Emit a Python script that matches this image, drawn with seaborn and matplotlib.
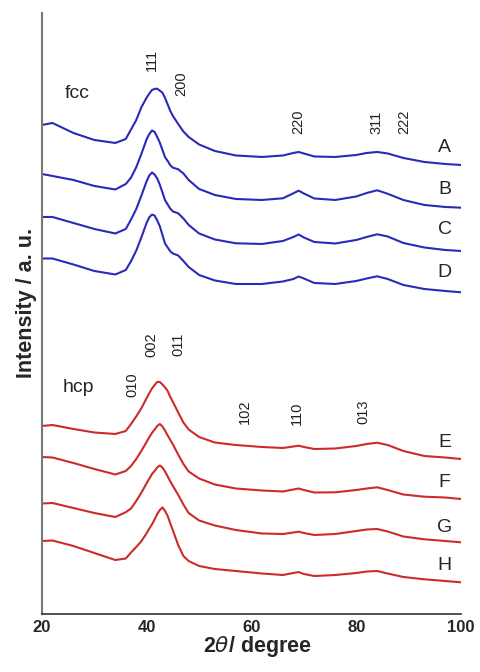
import numpy as np
import pandas as pd
import matplotlib
matplotlib.use('Agg')
import matplotlib.pyplot as plt
import seaborn as sns

# 2theta grid (degree) and intensities
two_theta = [20, 22, 26, 30, 34, 36, 37, 38, 39, 40, 40.5, 41, 41.5, 42, 42.5, 43, 43.5, 44, 44.5, 45,
             46, 47, 48, 50, 53, 57, 62, 66, 68, 69, 70, 72, 76, 80, 82, 84, 86, 89, 93, 97, 100]

curve_A = [489, 491, 481, 474, 471, 475, 484.5, 494, 507, 516.5, 520.5, 524, 525, 525.3, 523.3, 521.3, 516, 509.5, 503, 498,
           490, 482.5, 477, 469.5, 463, 458.5, 457, 458.5, 461, 462, 460.5, 457.5, 457, 459, 461, 462, 460.5, 456, 452, 450, 449]
curve_B = [440, 438, 434, 428, 424.5, 430, 436.4, 446.8, 460.4, 475, 480, 483.5, 482, 477, 471.3, 464, 456.7, 453, 448.7, 446.3,
           444.7, 440.5, 434, 425, 419, 415, 414, 415.7, 420.7, 423.3, 420.5, 415.5, 414, 417.5, 421, 423.7, 420.2, 414, 409, 407, 406.3]
curve_C = [397, 397, 391, 385, 380.5, 385, 394.4, 405, 418.7, 433, 438.6, 441.5, 439.5, 435.5, 429.2, 421.5, 413.7, 409.5, 405.3, 402.5,
           400.7, 395.5, 389, 380.5, 374.5, 370.7, 370, 373, 377, 379.5, 376.5, 372, 370.5, 374, 377, 379.7, 377.5, 371, 366.5, 364, 363]
curve_D = [355.5, 355.5, 349.5, 343, 339.5, 344, 352.8, 363.4, 377, 391.5, 396.8, 399.4, 398.4, 393.6, 387.7, 379, 370.4, 366.5, 362.6, 360.5,
           358.5, 353, 347, 339, 333.5, 330, 330, 332.5, 335, 337.5, 335.5, 331, 330, 333, 335.5, 337.7, 335, 329, 325, 323, 321.7]
curve_E = [188, 189, 185, 181.5, 180, 183, 190, 197.6, 206, 216, 221, 225.5, 229, 232, 232, 229.5, 226.5, 223, 217, 212,
           201.6, 191.5, 184.5, 177, 171.5, 169, 167, 166, 167.5, 168.3, 167, 165, 165.5, 168, 170, 171.3, 169, 163, 158, 156.5, 155]
curve_F = [157, 156.5, 151, 145, 139.5, 143, 148, 155, 163.4, 172.3, 177, 181, 184.5, 188, 190, 187.5, 183.3, 178.5, 174, 169.5,
           159.5, 150, 142.5, 135.5, 129.5, 125.5, 123.5, 122.5, 124.5, 125.5, 124, 121.5, 121.7, 124, 125.5, 126.7, 124, 119.5, 117.3, 116.5, 115]
curve_G = [110.5, 111, 106, 101, 97, 101.8, 105.5, 113, 121.6, 131, 135.4, 140, 143, 146.5, 148.5, 146.5, 142.5, 137.6, 132.5, 128,
           119.2, 109.5, 101, 93.5, 88.5, 84, 80.5, 80, 81.5, 82.3, 81, 79, 80, 83, 84.5, 85, 82.5, 77.5, 74.7, 73, 71.7]
curve_H = [73, 73.5, 68, 61, 54, 55.5, 61.5, 67, 73, 81, 85.5, 89.7, 94.5, 100, 104, 106.6, 103, 98, 90.5, 83.5,
           69, 58, 53, 48, 45, 43, 40.5, 39, 41, 42, 40, 38, 39, 41, 42.5, 43, 40.5, 37, 34.7, 33, 31.7]

sample_names = ['A', 'B', 'C', 'D', 'E', 'F', 'G', 'H']
curves = [curve_A, curve_B, curve_C, curve_D, curve_E, curve_F, curve_G, curve_H]

# reflection labels: (text, 2theta, height)
fcc_peaks = [('111', 40.9, 554), ('200', 46.5, 530), ('220', 69.0, 492), ('311', 83.9, 492), ('222', 89.1, 492)]
hcp_peaks = [('010', 37.3, 229), ('002', 40.9, 269), ('011', 46.0, 270), ('102', 58.7, 202),
             ('110', 68.6, 201), ('013', 81.3, 202)]
sample_label_y = [466, 424, 384, 341, 171, 131, 87, 49]

frames = []
for name, vals in zip(sample_names, curves):
    frames.append(pd.DataFrame({'two_theta': two_theta, 'intensity': vals, 'sample': name}))
df = pd.concat(frames, ignore_index=True)

blue = '#2a2ab8'
red = '#cc2b2b'
palette = {n: (blue if n in 'ABCD' else red) for n in sample_names}

sns.set_style('white')
plt.rcParams['font.family'] = ['Liberation Sans', 'DejaVu Sans']
plt.rcParams['mathtext.fontset'] = 'dejavusans'

fig = plt.figure(figsize=(4.81, 6.72), dpi=100)
ax = fig.add_axes([0.0873, 0.0863, 0.9584 - 0.0873, 0.9807 - 0.0863])

sns.lineplot(data=df, x='two_theta', y='intensity', hue='sample', palette=palette,
             legend=False, linewidth=1.5, ax=ax)

ax.set_xlim(20, 100)
ax.set_ylim(0, 601)
ax.set_xticks([20, 40, 60, 80, 100])
ax.set_xticks([30, 50, 70, 90], minor=True)
ax.set_yticks([])
ax.tick_params(axis='x', which='major', direction='in', length=8, width=1.2, pad=4,
               labelsize=12, color='#333333')
ax.tick_params(axis='x', which='minor', direction='in', length=4.5, width=1.2, color='#333333')
for lab in ax.get_xticklabels():
    lab.set_fontweight('bold')

sns.despine(ax=ax, top=True, right=True)
ax.spines['left'].set_color('#777777')
ax.spines['left'].set_linewidth(1.5)
ax.spines['bottom'].set_color('#333333')
ax.spines['bottom'].set_linewidth(1.2)

ax.set_xlabel(r'2$\theta$/ degree', fontsize=15.5, fontweight='bold')
ax.xaxis.set_label_coords(0.513, -0.034)
ax.set_ylabel('Intensity / a. u.', fontsize=15.5, fontweight='bold')
ax.yaxis.set_label_coords(-0.012, 0.517)

ax.text(24.4, 516, 'fcc', fontsize=14, va='baseline', ha='left')
ax.text(24.0, 222, 'hcp', fontsize=14, va='baseline', ha='left')

for txt, xx, yy in fcc_peaks + hcp_peaks:
    ax.text(xx, yy, txt, rotation=90, fontsize=10.5, ha='center', va='center', color='#222222')

for name, yy in zip(sample_names, sample_label_y):
    ax.text(96.9, yy, name, fontsize=14, ha='center', va='center')

fig.savefig('out.png', dpi=100)
